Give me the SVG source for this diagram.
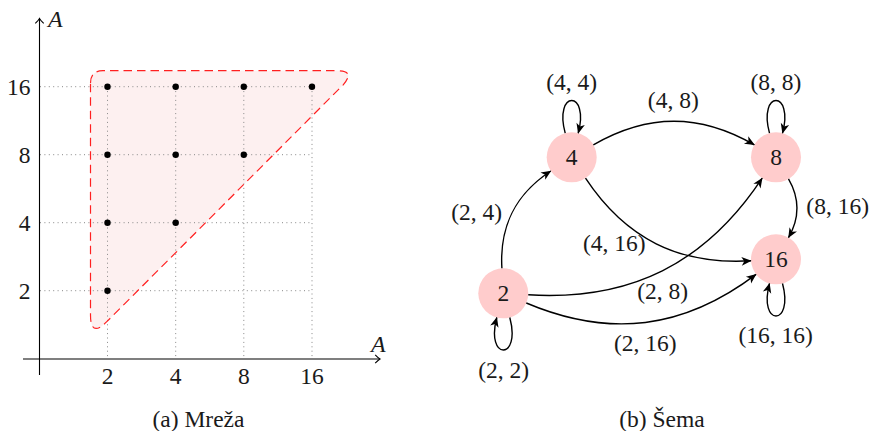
<svg xmlns="http://www.w3.org/2000/svg" width="869" height="431" viewBox="0 0 869 431">
<defs>
<style>
text{font-family:"Liberation Serif","Times New Roman",serif;font-size:23.5px;fill:#1a1a1a;}
.c{text-anchor:middle;}
.e{text-anchor:end;}
.it{font-style:italic;font-size:24px;}
.grid{stroke:#888;stroke-width:1;stroke-dasharray:1 3.4;fill:none;}
.axis{stroke:#000;stroke-width:1.1;fill:none;}
.edge{stroke:#000;stroke-width:1.4;fill:none;marker-end:url(#st);}
.node{fill:#ffcccc;}
.dot{fill:#000;}
</style>
<marker id="st" viewBox="-12 -7 14 14" markerWidth="14" markerHeight="14" refX="0" refY="0" orient="auto" markerUnits="userSpaceOnUse">
<path d="M0.5,0 L-9.5,-4.3 L-6.8,0 L-9.5,4.3 Z" fill="#000"/>
</marker>
<marker id="to" viewBox="-8 -6 10 12" markerWidth="10" markerHeight="12" refX="0" refY="0" orient="auto" markerUnits="userSpaceOnUse">
<path d="M-4.8,-4.2 Q-1.5,-0.8 0,0 Q-1.5,0.8 -4.8,4.2" fill="none" stroke="#000" stroke-width="1.1"/>
</marker>
</defs>

<g id="lattice">
<path d="M90.5,83 Q90.5,70.7 103,70.7 L337.3,70.7 Q355.5,70.7 343.2,84.8 L106.8,321.7 Q90.5,338 90.5,315 Z" fill="#fdf0f0" stroke="none"/>
<g class="grid">
<path d="M40,86.7 H312 M40,154.7 H312 M40,222.7 H312 M40,290.7 H312"/>
<path d="M107.5,86.7 V359 M175.7,86.7 V359 M243.8,86.7 V359 M312,86.7 V359"/>
</g>
<path d="M90.5,83 Q90.5,70.7 103,70.7 L337.3,70.7 Q355.5,70.7 343.2,84.8 L106.8,321.7 Q90.5,338 90.5,315 Z" fill="none" stroke="#ff2020" stroke-width="1.2" stroke-dasharray="8.5 5"/>
<path class="axis" d="M39.5,375 V18.5" marker-end="url(#to)"/>
<path class="axis" d="M23,359 H380" marker-end="url(#to)"/>
<text class="it" x="48" y="27">A</text>
<text class="it" x="371" y="352">A</text>
<text class="e" x="30.5" y="95">16</text>
<text class="e" x="30.5" y="163">8</text>
<text class="e" x="30.5" y="231">4</text>
<text class="e" x="30.5" y="299">2</text>
<text class="c" x="107.5" y="384">2</text>
<text class="c" x="175.7" y="384">4</text>
<text class="c" x="243.8" y="384">8</text>
<text class="c" x="312" y="384">16</text>
<circle class="dot" cx="107.5" cy="290.7" r="3.2"/>
<circle class="dot" cx="107.5" cy="222.7" r="3.2"/>
<circle class="dot" cx="107.5" cy="154.7" r="3.2"/>
<circle class="dot" cx="107.5" cy="86.7" r="3.2"/>
<circle class="dot" cx="175.7" cy="222.7" r="3.2"/>
<circle class="dot" cx="175.7" cy="154.7" r="3.2"/>
<circle class="dot" cx="175.7" cy="86.7" r="3.2"/>
<circle class="dot" cx="243.8" cy="154.7" r="3.2"/>
<circle class="dot" cx="243.8" cy="86.7" r="3.2"/>
<circle class="dot" cx="312" cy="86.7" r="3.2"/>
<text class="c" x="198.5" y="426.5">(a) Mreža</text>
</g>

<g id="n2"><circle class="node" cx="503.3" cy="293.3" r="25"/><text class="c" x="503.3" y="301.3">2</text></g>
<g id="n4"><circle class="node" cx="571.7" cy="157.3" r="25"/><text class="c" x="571.7" y="165.3">4</text></g>
<g id="n8"><circle class="node" cx="776" cy="157.3" r="25"/><text class="c" x="776" y="165.3">8</text></g>
<g id="n16"><circle class="node" cx="776" cy="259.3" r="25"/><text class="c" x="776" y="267.3">16</text></g>

<g id="edges">
<path class="edge" d="M501.9,268.3 C499.4,225.8 515.2,194.4 550.8,171"/>
<path class="edge" d="M593.35,144.8 C647.9,113.3 699.8,113.3 754.35,144.8"/>
<path class="edge" d="M585.5,178.15 C625.5,238.5 678.8,265.2 751.05,260.8"/>
<path class="edge" d="M528.25,294.8 C630.4,301.05 705.7,263.45 762.2,178.15"/>
<path class="edge" d="M526.3,303 C609.9,338.3 683.7,329.1 756.06,274.4"/>
<path class="edge" d="M788.5,178.95 C800,198.9 800,217.75 788.5,237.65"/>
<path class="edge" d="M565.2,133.15 C553.55,89.7 589.85,89.7 578.2,133.15"/>
<path class="edge" d="M769.5,133.15 C757.85,89.7 794.15,89.7 782.5,133.15"/>
<path class="edge" d="M782.5,283.45 C794.15,326.9 757.85,326.9 769.5,283.45"/>
<path class="edge" d="M509.8,317.45 C521.45,360.9 485.15,360.9 496.8,317.45"/>
</g>

<g id="labels">
<text class="c" x="571.7" y="89.5">(4, 4)</text>
<text class="c" x="776" y="89.5">(8, 8)</text>
<text class="c" x="673.3" y="108">(4, 8)</text>
<text class="c" x="476.7" y="220">(2, 4)</text>
<text class="c" x="614.3" y="250.5">(4, 16)</text>
<text class="c" x="837.7" y="214">(8, 16)</text>
<text class="c" x="662.7" y="299">(2, 8)</text>
<text class="c" x="645.3" y="350.5">(2, 16)</text>
<text class="c" x="775.7" y="342.5">(16, 16)</text>
<text class="c" x="503.7" y="377.5">(2, 2)</text>
<text class="c" x="662" y="426.5">(b) Šema</text>
</g>
</svg>
